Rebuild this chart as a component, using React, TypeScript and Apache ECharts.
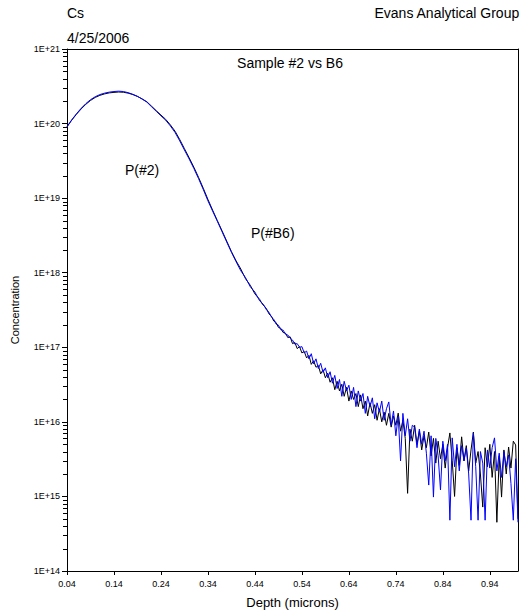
import { useEffect, useRef } from "react";
import * as echarts from "echarts";

// Depth grid (microns) – smooth implanted profile part
const depthProfile = [
  0.04, 0.05, 0.06, 0.07, 0.08, 0.09, 0.10, 0.11, 0.12, 0.13,
  0.14, 0.15, 0.16, 0.17, 0.18, 0.19, 0.20, 0.21, 0.22, 0.23,
  0.24, 0.25, 0.26, 0.27, 0.28, 0.29, 0.30, 0.31, 0.32, 0.33,
  0.34, 0.35, 0.36, 0.37, 0.38, 0.39, 0.40, 0.41, 0.42, 0.43,
  0.44, 0.45,
];
// P(#2) – black
const profileS2 = [
  9.1e19, 1.11e20, 1.33e20, 1.57e20, 1.81e20, 2.04e20, 2.24e20, 2.39e20, 2.5e20, 2.58e20,
  2.62e20, 2.65e20, 2.63e20, 2.56e20, 2.45e20, 2.31e20, 2.14e20, 1.96e20, 1.71e20, 1.49e20,
  1.3e20, 1.14e20, 9.6e19, 7.9e19, 6.1e19, 4.6e19, 3.48e19, 2.6e19, 1.9e19, 1.36e19,
  9.6e18, 6.9e18, 5.0e18, 3.65e18, 2.65e18, 1.92e18, 1.44e18, 1.12e18, 8.3e17, 6.8e17,
  5.2e17, 4.4e17,
];
// P(#B6) – blue
const profileB6 = [
  9.0e19, 1.12e20, 1.35e20, 1.6e20, 1.85e20, 2.09e20, 2.29e20, 2.45e20, 2.56e20, 2.64e20,
  2.69e20, 2.72e20, 2.69e20, 2.6e20, 2.47e20, 2.32e20, 2.13e20, 1.94e20, 1.68e20, 1.46e20,
  1.27e20, 1.11e20, 9.3e19, 7.6e19, 5.85e19, 4.42e19, 3.35e19, 2.5e19, 1.83e19, 1.31e19,
  9.2e18, 6.7e18, 4.9e18, 3.55e18, 2.58e18, 1.88e18, 1.4e18, 1.06e18, 8.6e17, 6.5e17,
  5.5e17, 4.2e17,
];

// Depth grid – noisy tail
const depthTail = [
  0.455, 0.46, 0.465, 0.47, 0.475, 0.48, 0.485, 0.49, 0.495, 0.5,
  0.505, 0.51, 0.515, 0.52, 0.525, 0.53, 0.535, 0.54, 0.545, 0.55,
  0.555, 0.56, 0.565, 0.57, 0.575, 0.58, 0.585, 0.59, 0.595, 0.6,
  0.605, 0.61, 0.615, 0.62, 0.625, 0.63, 0.635, 0.64, 0.645, 0.65,
  0.655, 0.66, 0.665, 0.67, 0.675, 0.68, 0.685, 0.69, 0.695, 0.7,
  0.705, 0.71, 0.715, 0.72, 0.725, 0.73, 0.735, 0.74, 0.745, 0.75,
  0.755, 0.76, 0.765, 0.77, 0.775, 0.78, 0.785, 0.79, 0.795, 0.8,
  0.805, 0.81, 0.815, 0.82, 0.825, 0.83, 0.835, 0.84, 0.845, 0.85,
  0.855, 0.86, 0.865, 0.87, 0.875, 0.88, 0.885, 0.89, 0.895, 0.9,
  0.905, 0.91, 0.915, 0.92, 0.925, 0.93, 0.935, 0.94, 0.945, 0.95,
  0.955, 0.96, 0.965, 0.97, 0.975, 0.98, 0.985, 0.99, 0.995, 1.0,
];
const tailS2 = [
  3.85e17, 3.55e17, 3.25e17, 2.8e17, 2.62e17, 2.25e17, 2.15e17, 1.85e17, 1.8e17, 1.58e17,
  1.55e17, 1.35e17, 1.38e17, 1.12e17, 1.16e17, 9.6e16, 1.02e17, 8.4e16, 8.8e16, 7.2e16,
  7.8e16, 5.9e16, 6.6e16, 5.4e16, 5.7e16, 4.4e16, 5.0e16, 3.9e16, 4.5e16, 3.4e16,
  3.9e16, 2.7e16, 3.5e16, 2.6e16, 3.2e16, 2.2e16, 2.9e16, 1.9e16, 2.6e16, 2.0e16,
  2.4e16, 1.6e16, 2.3e16, 1.5e16, 1.9e16, 1.2e16, 1.8e16, 1.3e16, 1.7e16, 1.05e16,
  1.5e16, 1.0e16, 1.35e16, 9.0e15, 1.3e16, 8.5e15, 1.2e16, 9.0e15, 1.31e16, 7.5e15,
  1.05e16, 6.0e15, 1.1e15, 8.0e15, 5.5e15, 9.0e15, 5.0e15, 7.5e15, 4.2e15, 6.5e15,
  4.5e15, 7.3e15, 3.5e15, 6.0e15, 2.8e15, 5.5e15, 3.2e15, 5.0e15, 2.4e15, 4.5e15,
  7.1e15, 3.0e15, 1.0e15, 4.5e15, 2.6e15, 6.3e15, 3.0e15, 4.8e15, 2.2e15, 4.2e15,
  7.3e15, 2.8e15, 4.0e15, 2.0e15, 7.2e14, 4.5e15, 2.5e15, 5.0e15, 1.8e15, 4.0e15,
  4.5e14, 3.5e15, 9.8e14, 4.2e15, 2.0e15, 4.6e15, 2.4e15, 5.5e15, 4.9e15, 5.0e14,
];
const tailB6 = [
  3.95e17, 3.6e17, 3.15e17, 2.95e17, 2.55e17, 2.38e17, 2.05e17, 1.98e17, 1.72e17, 1.7e17,
  1.5e17, 1.46e17, 1.33e17, 1.25e17, 1.1e17, 1.12e17, 1.0e17, 1.02e17, 8.4e16, 8.9e16,
  7.0e16, 8.2e16, 6.0e16, 7.0e16, 5.2e16, 6.1e16, 4.6e16, 5.3e16, 3.9e16, 4.7e16,
  3.3e16, 4.2e16, 2.8e16, 3.7e16, 2.2e16, 3.5e16, 2.6e16, 3.1e16, 2.0e16, 2.9e16,
  1.6e16, 2.6e16, 1.9e16, 2.4e16, 1.3e16, 2.2e16, 1.6e16, 2.1e16, 1.1e16, 1.8e16,
  1.35e16, 1.9e16, 1.05e16, 1.5e16, 1.85e16, 9.0e15, 1.4e16, 6.5e15, 1.2e16, 3.0e15,
  1.3e16, 6.5e15, 1.1e16, 5.5e15, 9.0e15, 8.5e15, 4.5e15, 8.0e15, 5.0e15, 7.5e15,
  3.8e15, 1.42e15, 6.5e15, 9.8e14, 6.0e15, 3.5e15, 1.22e15, 5.5e15, 3.0e15, 5.0e15,
  4.8e14, 6.1e15, 2.5e15, 5.0e15, 2.2e15, 4.8e15, 3.0e15, 4.5e15, 2.0e15, 4.8e14,
  7.1e15, 2.5e15, 4.8e14, 4.0e15, 2.8e15, 4.8e14, 4.2e15, 2.4e15, 4.5e15, 6.1e15,
  2.2e15, 3.8e15, 1.8e15, 4.0e15, 2.5e15, 3.6e15, 1.5e15, 4.8e14, 3.2e15, 4.5e14,
];

const xMin = 0.04;
const xMax = 1.0;
const xStep = 0.1;
const yMin = 1e14;
const yMax = 1e21;
const minorMultipliers = [2, 3, 4, 5, 6, 7, 8, 9];

const FONT = "'Liberation Sans', Arial, sans-serif";

function pairs(xs: number[], ys: number[]) {
  return xs.map((x, i) => [x, ys[i]]);
}

export default function App() {
  const ref = useRef<HTMLDivElement>(null);

  useEffect(() => {
    if (!ref.current) return;
    const chart = echarts.init(ref.current, undefined, { renderer: "svg" });
    const depth = depthProfile.concat(depthTail);
    const s2 = pairs(depth, profileS2.concat(tailS2));
    const b6 = pairs(depth, profileB6.concat(tailB6));

    const texts: any[] = [
      { type: "text", left: 67, top: 6, style: { text: "Cs", font: `14px ${FONT}`, fill: "#000" } },
      { type: "text", left: 67, top: 31, style: { text: "4/25/2006", font: `14px ${FONT}`, fill: "#000" } },
      { type: "text", right: 9, top: 6, style: { text: "Evans Analytical Group", font: `14px ${FONT}`, fill: "#000" } },
      { type: "text", x: 290, y: 63, style: { text: "Sample #2 vs B6", font: `14px ${FONT}`, fill: "#000", align: "center", verticalAlign: "middle" } },
      { type: "text", x: 125, y: 170, style: { text: "P(#2)", font: `14px ${FONT}`, fill: "#000", verticalAlign: "middle" } },
      { type: "text", x: 251, y: 233, style: { text: "P(#B6)", font: `14px ${FONT}`, fill: "#000", verticalAlign: "middle" } },
    ];

    chart.setOption({
      animation: false,
      backgroundColor: "#fff",
      grid: { left: 67, right: 11, top: 49, bottom: 41, containLabel: false, outerBoundsMode: "none" },
      xAxis: [
        {
          type: "value",
          min: xMin,
          max: xMax,
          interval: xStep,
          name: "Depth (microns)",
          nameLocation: "middle",
          nameGap: 25,
          nameTextStyle: { fontFamily: FONT, fontSize: 13, color: "#000" },
          axisLine: { onZero: false, lineStyle: { color: "#000", width: 1 } },
          axisTick: { show: true, length: 4, lineStyle: { color: "#000" } },
          axisLabel: {
            fontFamily: FONT,
            fontSize: 9,
            color: "#000",
            margin: 8,
            showMaxLabel: false,
            formatter: (v: number) => (Math.abs(v - xMax) < 1e-9 ? "" : v.toFixed(2)),
          },
          splitLine: { show: false },
        },
        {
          type: "value",
          position: "top",
          min: xMin,
          max: xMax,
          axisLine: { show: true, onZero: false, lineStyle: { color: "#000", width: 1 } },
          axisTick: { show: false },
          axisLabel: { show: false },
          splitLine: { show: false },
        },
      ],
      yAxis: [
        {
          type: "log",
          logBase: 10,
          min: yMin,
          max: yMax,
          splitNumber: 7,
          name: "Concentration",
          nameLocation: "middle",
          nameGap: 47,
          nameRotate: 90,
          nameTextStyle: { fontFamily: FONT, fontSize: 11, color: "#000" },
          axisLine: { show: true, onZero: false, lineStyle: { color: "#000", width: 1 } },
          axisTick: { show: true, length: 5, lineStyle: { color: "#000" } },
          axisLabel: {
            fontFamily: FONT,
            fontSize: 9,
            color: "#000",
            margin: 7,
            formatter: (v: number) => "1E+" + Math.round(Math.log10(v)),
          },
          splitLine: { show: false },
        },
        {
          type: "value",
          position: "right",
          min: 0,
          max: 1,
          axisLine: { show: true, onZero: false, lineStyle: { color: "#000", width: 1 } },
          axisTick: { show: false },
          axisLabel: { show: false },
          splitLine: { show: false },
        },
      ],
      series: [
        {
          name: "P(#2)",
          type: "line",
          data: s2,
          showSymbol: false,
          symbol: "none",
          lineStyle: { color: "#000000", width: 1 },
          z: 2,
        },
        {
          name: "P(#B6)",
          type: "line",
          data: b6,
          showSymbol: false,
          symbol: "none",
          lineStyle: { color: "#0000ff", width: 1 },
          z: 3,
        },
      ],
      graphic: texts,
    });

    // Minor (logarithmic) ticks on the y axis, positioned via the axis scale
    const axisX = chart.convertToPixel({ xAxisIndex: 0 }, xMin) as number;
    const minor: any[] = [];
    for (let e = 14; e < 21; e++) {
      for (const m of minorMultipliers) {
        const py = chart.convertToPixel({ yAxisIndex: 0 }, m * Math.pow(10, e)) as number;
        minor.push({
          type: "line",
          z: 10,
          shape: { x1: axisX - 4, y1: Math.round(py) + 0.5, x2: axisX, y2: Math.round(py) + 0.5 },
          style: { stroke: "#000", lineWidth: 1 },
        });
      }
    }
    chart.setOption({ graphic: texts.concat(minor) });

    return () => chart.dispose();
  }, []);

  return (
    <div
      ref={ref}
      style={{ position: "fixed", left: 0, top: 0, width: 529, height: 612, background: "#fff" }}
    />
  );
}
